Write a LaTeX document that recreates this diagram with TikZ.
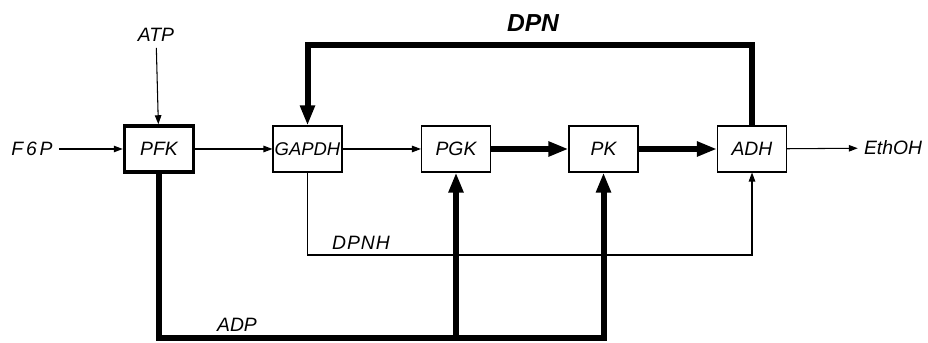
\documentclass[tikz,border=0pt]{standalone}
\usepackage{fontspec}
\setmainfont{Liberation Sans}
\usetikzlibrary{arrows.meta}

\tikzset{
  enz/.style={draw, line width=0.6pt, minimum width=13.8mm, minimum height=9.2mm,
    inner sep=1pt, font=\fontsize{11}{13}\selectfont\itshape},
  lbl/.style={font=\fontsize{11}{13}\selectfont\itshape},
  flow/.style={line width=0.6pt, -{Triangle[length=1.8mm, width=1.3mm]}},
  bigflow/.style={line width=1.2mm, -{Triangle[length=4mm, width=2.8mm]}},
}

\begin{document}
\begin{tikzpicture}[x=0.2mm, y=0.2mm]
  \useasboundingbox (0,0) rectangle (928,343);

  % enzymes
  \node[enz, line width=0.7mm] (pfk) at (159,194) {PFK};
  \node[enz, inner sep=0pt, font=\fontsize{10.5}{12}\selectfont\itshape] (gapdh) at (307.5,194) {GAPDH};
  \node[enz] (pgk) at (456,194) {PGK};
  \node[enz] (pk) at (603.5,194) {PK};
  \node[enz] (adh) at (752,194) {ADH};

  % substrates and cofactors
  \node[lbl] (atp) at (156,308) {ATP};
  \node[lbl, font=\fontsize{11}{13}\selectfont\itshape\addfontfeature{LetterSpace=15}] (f6p) at (32,194) {F6P};
  \node[lbl] (etoh) at (893,195) {EthOH};
  \node[font=\fontsize{14}{16}\selectfont\bfseries\itshape] (dpn) at (533,320) {DPN};
  \node[lbl, font=\fontsize{11}{13}\selectfont\itshape\addfontfeature{LetterSpace=5}] (dpnh) at (361,100) {DPNH};
  \node[lbl] (adp) at (237,18) {ADP};

  \coordinate (dpnline) at (0,298);
  \coordinate (dpnhline) at (0,88);
  \coordinate (adpline) at (0,5);

  % main pathway
  \draw[flow] (f6p) -- (pfk);
  \draw[flow] (atp) -- (pfk);
  \draw[flow] (pfk) -- (gapdh);
  \draw[flow] (gapdh) -- (pgk);
  \draw[bigflow] (pgk) -- (pk);
  \draw[bigflow] (pk) -- (adh);
  \draw[flow] (adh) -- (etoh);

  % cofactor loops
  \draw[bigflow] (adh.north) -- (adh.north |- dpnline) -| (gapdh.north);
  \draw[flow] (gapdh.south) -- (gapdh.south |- dpnhline) -| (adh.south);
  \draw[bigflow] (pfk.south) -- (pfk.south |- adpline) -| (pk.south);
  \draw[bigflow] (pgk.south |- adpline) -- (pgk.south);
\end{tikzpicture}
\end{document}
